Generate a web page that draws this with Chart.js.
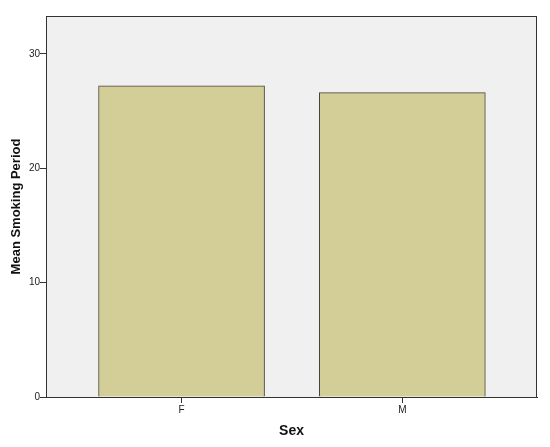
<!DOCTYPE html>
<html>
<head>
<meta charset="utf-8">
<script src="https://cdn.jsdelivr.net/npm/chart.js@4"></script>
<style>
  html, body { margin: 0; padding: 0; background: #fff; }
  #wrap { width: 550px; height: 447px; }
</style>
</head>
<body>
<div id="wrap"><canvas id="chart" width="550" height="447"></canvas></div>
<script>
// Data
const categories = ['F', 'M'];
const meanSmoking = [27.2, 26.6];
const yTicks = [0, 10, 20, 30];

// Plot panel background + frame
const panelPlugin = {
    id: 'panel',
    beforeDraw(chart) {
        const a = chart.chartArea, ctx = chart.ctx;
        ctx.save();
        ctx.fillStyle = '#f0f0f0';
        ctx.fillRect(a.left, a.top, a.right - a.left, a.bottom - a.top);
        ctx.restore();
    },
    afterDraw(chart) {
        const a = chart.chartArea, ctx = chart.ctx;
        ctx.save();
        ctx.strokeStyle = '#333';
        ctx.lineWidth = 1;
        ctx.strokeRect(a.left + 0.5, a.top + 0.5, a.right - a.left - 1, a.bottom - a.top);
        ctx.restore();
    }
};

const ctx = document.getElementById('chart').getContext('2d');
new Chart(ctx, {
    type: 'bar',
    data: {
        datasets: [{
            data: meanSmoking.map((v, i) => ({ x: i, y: v })),
            backgroundColor: '#d3ce97',
            borderColor: '#45453a',
            borderWidth: 1,
            barThickness: 166
        }]
    },
    options: {
        responsive: false,
        animation: false,
        layout: { padding: { top: 16, right: 13, left: 0, bottom: 0 } },
        plugins: {
            legend: { display: false },
            tooltip: { enabled: false }
        },
        scales: {
            x: {
                type: 'linear',
                offset: false,
                min: -0.614,
                max: 1.61,
                afterBuildTicks: axis => {
                    axis.ticks = categories.map((c, i) => ({ value: i }));
                },
                afterFit: axis => { axis.height = 50; },
                ticks: {
                    callback: v => categories[v],
                    color: '#222',
                    font: { family: 'Liberation Sans', size: 10 },
                    padding: 1,
                    maxRotation: 0
                },
                grid: {
                    offset: false,
                    drawOnChartArea: false,
                    drawTicks: true,
                    tickLength: 6,
                    color: '#333'
                },
                border: { color: '#333' },
                title: {
                    display: true,
                    text: 'Sex',
                    color: '#111',
                    font: { family: 'Liberation Sans', size: 14, weight: 'bold' },
                    padding: { top: 0, bottom: 7 }
                }
            },
            y: {
                min: 0,
                max: 33.3,
                afterBuildTicks: axis => {
                    axis.ticks = yTicks.map(v => ({ value: v }));
                },
                afterFit: axis => { axis.width = 46; },
                ticks: {
                    color: '#222',
                    font: { family: 'Liberation Sans', size: 10 },
                    padding: 0
                },
                grid: {
                    drawOnChartArea: false,
                    drawTicks: true,
                    tickLength: 6,
                    color: '#333'
                },
                border: { color: '#333' },
                title: {
                    display: true,
                    text: 'Mean Smoking Period',
                    color: '#111',
                    font: { family: 'Liberation Sans', size: 13, weight: 'bold' },
                    padding: { top: 9, bottom: 0 }
                }
            }
        }
    },
    plugins: [panelPlugin]
});
</script>
</body>
</html>
